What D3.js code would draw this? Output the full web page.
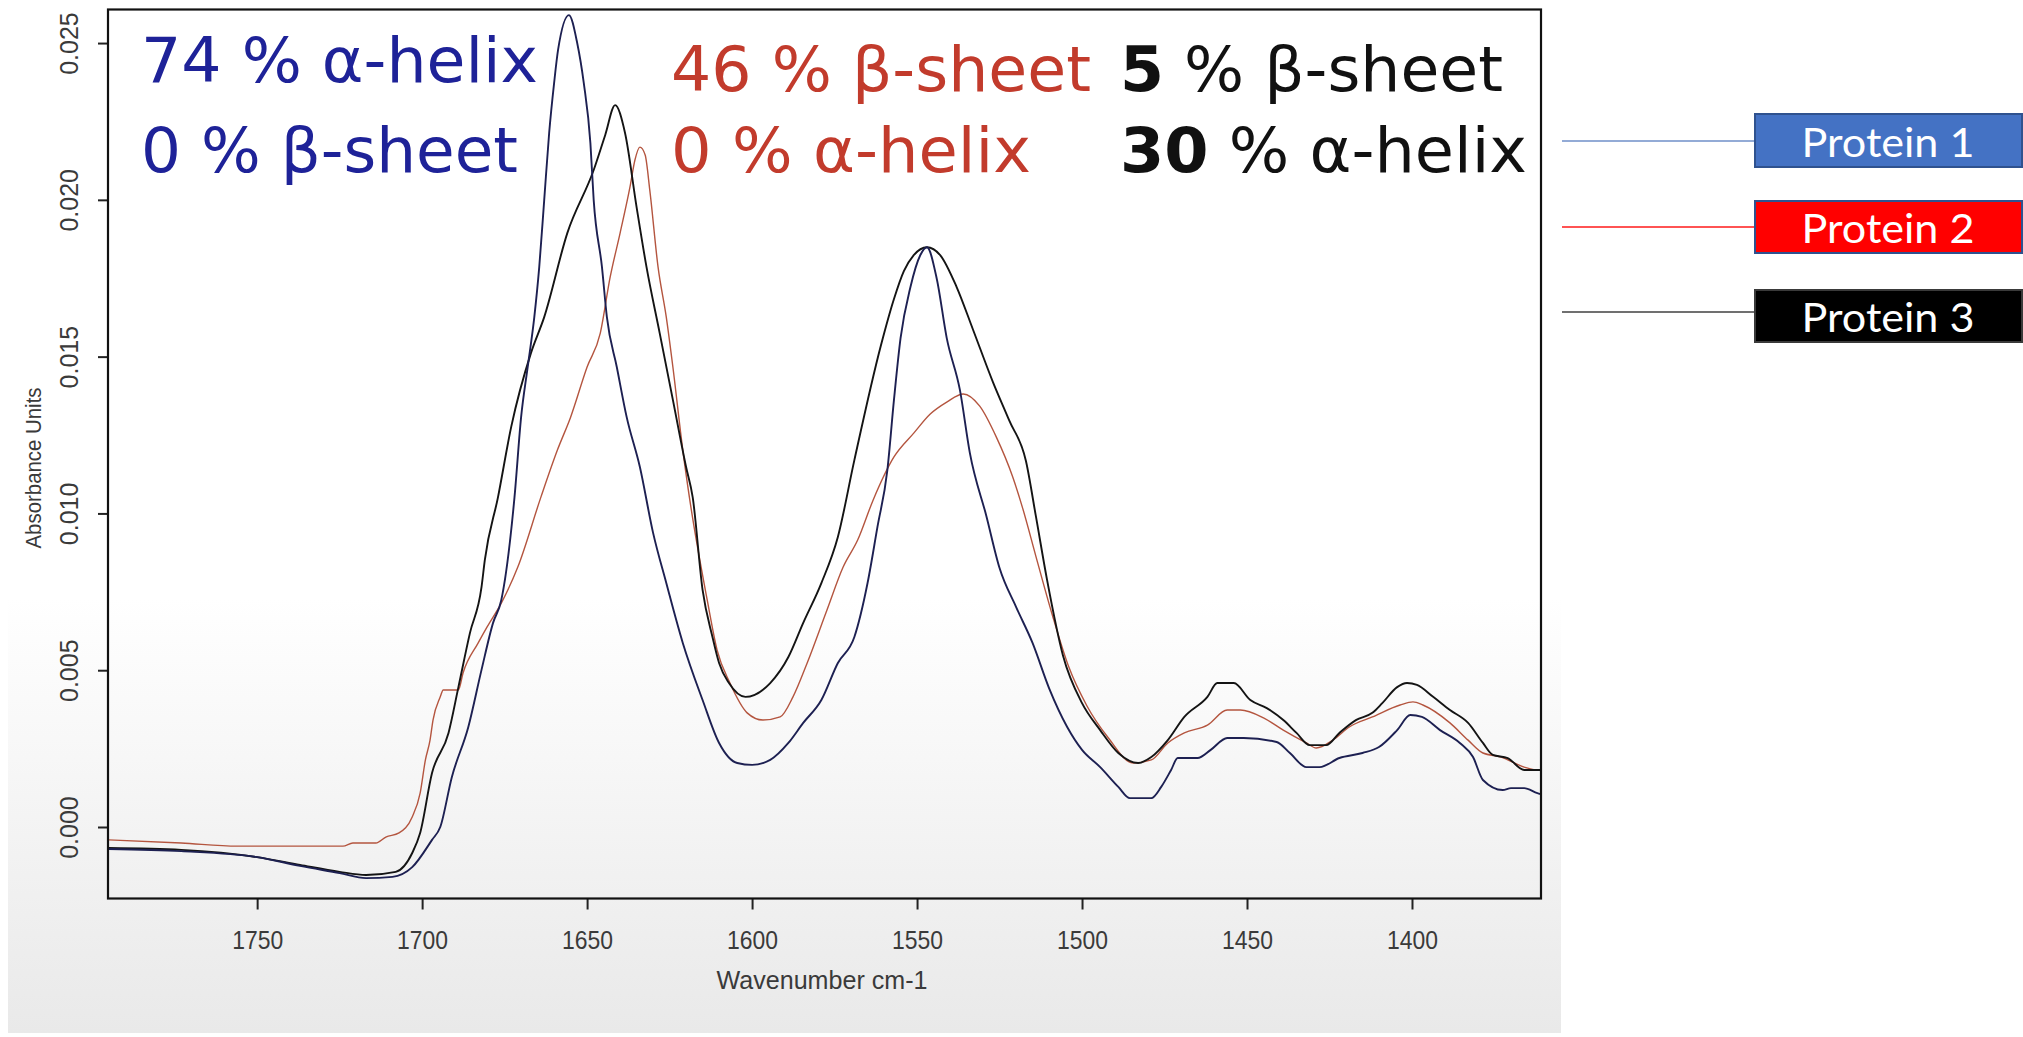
<!DOCTYPE html>
<html>
<head>
<meta charset="utf-8">
<script src="https://cdn.jsdelivr.net/npm/d3@7"></script>
<style>
  body { margin: 0; background: #ffffff; }
  svg { display: block; }
</style>
</head>
<body>
<svg id="chart" width="2023" height="1037"></svg>
<script>
// FTIR absorbance spectra (amide I / amide II region) of three proteins.
// Each series: [wavenumber (cm-1), absorbance units]

const protein1 = [
  [1795,-0.00070],[1773,-0.00077],[1750,-0.00096],[1737,-0.00124],[1725,-0.00147],
  [1717,-0.00163],[1709,-0.00159],[1703,-0.00128],[1697,-0.00041],[1694.5,0.00000],
  [1691,0.00159],[1686,0.00319],[1682,0.00501],[1678.5,0.00651],[1676,0.00724],
  [1672,0.01052],[1670,0.01307],[1668,0.01467],[1666,0.01626],[1664.5,0.01786],
  [1663,0.01999],[1661.5,0.02213],[1660,0.02372],[1658.8,0.02478],[1655.5,0.02589],
  [1653,0.02500],[1651,0.02372],[1649,0.02181],[1648,0.01999],[1645.5,0.01786],
  [1644,0.01626],[1641,0.01467],[1638,0.01307],[1634,0.01148],[1630,0.00938],
  [1626,0.00778],[1621,0.00587],[1615,0.00405],[1610,0.00268],[1604.5,0.00204],
  [1600,0.00198],[1594.5,0.00214],[1589,0.00268],[1584.5,0.00332],[1579,0.00405],
  [1574,0.00523],[1569,0.00606],[1565,0.00778],[1562,0.00957],[1559,0.01138],
  [1557,0.01362],[1555,0.01559],[1552,0.01722],[1549,0.01824],[1547,0.01849],
  [1544,0.01747],[1541,0.01559],[1537,0.01393],[1534,0.01193],[1529,0.00992],
  [1525,0.00826],[1520,0.00702],[1515,0.00587],[1510,0.00443],[1504.5,0.00319],
  [1500,0.00246],[1494.5,0.00191],[1489,0.00128],[1485.5,0.00092],[1479,0.00092],
  [1476,0.00128],[1473,0.00182],[1471,0.00220],[1465,0.00220],[1461,0.00246],
  [1456,0.00284],[1451,0.00284],[1441,0.00271],[1437,0.00236],[1432,0.00191],
  [1428,0.00191],[1422,0.00220],[1415,0.00236],[1410,0.00255],[1404.5,0.00309],
  [1400.5,0.00357],[1397,0.00351],[1391.5,0.00309],[1385.5,0.00268],[1381.5,0.00223],
  [1378.5,0.00150],[1372.5,0.00118],[1370,0.00124],[1366,0.00124],[1362,0.00108],
  [1361,0.00105]
];

const protein2 = [
  [1795,-0.00041],[1773,-0.00051],[1756,-0.00061],[1724,-0.00061],[1721,-0.00051],
  [1714,-0.00051],[1711,-0.00032],[1707,-0.00019],[1703,0.00032],[1700.6,0.00108],
  [1699,0.00214],[1697.6,0.00277],[1696.7,0.00341],[1694.5,0.00415],[1693.6,0.00437],
  [1689,0.00437],[1687.6,0.00491],[1683,0.00587],[1680.3,0.00638],[1676,0.00714],
  [1671,0.00829],[1664,0.01052],[1659,0.01202],[1655,0.01307],[1650,0.01467],
  [1646,0.01575],[1643,0.01754],[1640,0.01894],[1637,0.02041],[1635.5,0.02127],
  [1634,0.02168],[1632.4,0.02143],[1631,0.02031],[1628.5,0.01786],[1626,0.01626],
  [1624,0.01467],[1621,0.01202],[1619,0.01052],[1613.6,0.00724],[1610.6,0.00564],
  [1606.7,0.00459],[1601.5,0.00364],[1596.7,0.00341],[1591.5,0.00351],[1587.6,0.00415],
  [1583.3,0.00523],[1577.3,0.00692],[1572.4,0.00829],[1568,0.00915],[1563.3,0.01043],
  [1557,0.01180],[1551,0.01256],[1546,0.01317],[1541,0.01355],[1536,0.01381],
  [1531,0.01342],[1526,0.01244],[1521,0.01116],[1518,0.01017],[1514,0.00864],
  [1509,0.00676],[1504,0.00510],[1498.5,0.00386],[1492,0.00284],[1484.5,0.00204],
  [1479,0.00214],[1474,0.00268],[1469,0.00300],[1462,0.00325],[1456,0.00373],
  [1452,0.00373],[1445,0.00348],[1439,0.00309],[1432,0.00268],[1429,0.00252],
  [1424,0.00277],[1419,0.00319],[1412,0.00351],[1403.6,0.00389],[1399.7,0.00399],
  [1396.7,0.00389],[1388.5,0.00332],[1383,0.00277],[1378.5,0.00236],[1373,0.00223],
  [1366,0.00191],[1362,0.00182],[1361,0.00182]
];

const protein3 = [
  [1795,-0.00067],[1773,-0.00073],[1750,-0.00096],[1737,-0.00121],[1725,-0.00143],
  [1717,-0.00153],[1708,-0.00143],[1703,-0.00083],[1700.6,-0.00019],[1697,0.00172],
  [1692,0.00300],[1689,0.00446],[1685.5,0.00619],[1682,0.00765],[1681,0.00851],
  [1677,0.01052],[1673,0.01276],[1667,0.01512],[1663,0.01626],[1656,0.01894],
  [1648,0.02095],[1644.5,0.02207],[1641.5,0.02302],[1638.5,0.02213],[1635,0.01977],
  [1632,0.01786],[1628,0.01575],[1624,0.01362],[1620,0.01148],[1618,0.01052],
  [1615,0.00756],[1612,0.00606],[1610,0.00523],[1607,0.00459],[1602,0.00415],
  [1594.5,0.00459],[1589,0.00542],[1584.5,0.00651],[1579,0.00778],[1574,0.00925],
  [1569,0.01170],[1561,0.01534],[1557,0.01684],[1554,0.01773],[1551,0.01824],
  [1547,0.01849],[1543,0.01824],[1538,0.01722],[1533,0.01585],[1527,0.01419],
  [1522,0.01295],[1517,0.01167],[1514,0.00992],[1510.6,0.00788],[1505.8,0.00548],
  [1500,0.00395],[1494.5,0.00309],[1489,0.00236],[1483,0.00204],[1479,0.00223],
  [1474,0.00277],[1469,0.00351],[1462,0.00415],[1459,0.00459],[1454,0.00459],
  [1449,0.00405],[1444,0.00379],[1439,0.00341],[1435,0.00300],[1431,0.00261],
  [1426,0.00261],[1422,0.00300],[1417,0.00341],[1412,0.00364],[1409,0.00395],
  [1404.5,0.00446],[1401.5,0.00459],[1398.5,0.00453],[1393.6,0.00415],[1388.5,0.00373],
  [1383,0.00332],[1378.5,0.00268],[1375.5,0.00230],[1371,0.00220],[1366,0.00182],
  [1362,0.00182],[1361,0.00182]
];

const proteinNames = ["Protein 1", "Protein 2", "Protein 3"];
const xTicks = [1750, 1700, 1650, 1600, 1550, 1500, 1450, 1400];
const yTicks = [0.000, 0.005, 0.010, 0.015, 0.020, 0.025];
const xDomain = [1795.2, 1360.9];
const yDomain = [-0.00228, 0.02607];

// Secondary-structure content printed inside the plot
const structureNotes = [
  { protein: 0, value: "74", label: " % α-helix" },
  { protein: 0, value: "0",  label: " % β-sheet" },
  { protein: 1, value: "46", label: " % β-sheet" },
  { protein: 1, value: "0",  label: " % α-helix" },
  { protein: 2, value: "5",  label: " % β-sheet" },
  { protein: 2, value: "30", label: " % α-helix" }
];

// ---------------------------------------------------------------------------
const svg = d3.select("#chart");
const defs = svg.append("defs");

const shade = defs.append("linearGradient")
  .attr("id", "panelShade").attr("x1", 0).attr("y1", 0).attr("x2", 0).attr("y2", 1);
shade.append("stop").attr("offset", "0%").attr("stop-color", "#ffffff");
shade.append("stop").attr("offset", "58%").attr("stop-color", "#ffffff");
shade.append("stop").attr("offset", "100%").attr("stop-color", "#e9e9e9");

svg.append("rect")
  .attr("x", 8).attr("y", 0).attr("width", 1553).attr("height", 1033)
  .attr("fill", "url(#panelShade)");

const plot = { left: 108, top: 9.5, right: 1541, bottom: 898.5 };

const x = d3.scaleLinear().domain(xDomain).range([plot.left, plot.right]);
const y = d3.scaleLinear().domain(yDomain).range([plot.bottom, plot.top]);

defs.append("clipPath").attr("id", "plotClip")
  .append("rect")
  .attr("x", plot.left).attr("y", plot.top)
  .attr("width", plot.right - plot.left).attr("height", plot.bottom - plot.top);

// Axes
const axisFont = "'Liberation Sans', Arial, sans-serif";

const xAxis = svg.append("g")
  .attr("transform", `translate(0,${plot.bottom})`)
  .call(d3.axisBottom(x).tickValues(xTicks).tickSize(11).tickPadding(22).tickFormat(d3.format("d")));
xAxis.select(".domain").remove();
xAxis.selectAll(".tick line").attr("stroke", "#222").attr("stroke-width", 2);
xAxis.selectAll(".tick text")
  .attr("fill", "#3a3a3a")
  .style("font-family", axisFont)
  .style("font-size", "25px")
  .attr("textLength", 51)
  .attr("lengthAdjust", "spacingAndGlyphs");

const yAxis = svg.append("g")
  .attr("transform", `translate(${plot.left},0)`)
  .call(d3.axisLeft(y).tickValues(yTicks).tickSize(10).tickFormat(d3.format(".3f")));
yAxis.select(".domain").remove();
yAxis.selectAll(".tick line").attr("stroke", "#222").attr("stroke-width", 2);
yAxis.selectAll(".tick text")
  .attr("x", null).attr("dy", null)
  .attr("text-anchor", "middle")
  .attr("transform", "translate(-30,0) rotate(-90)")
  .attr("fill", "#3a3a3a")
  .style("font-family", axisFont)
  .style("font-size", "25px");

svg.append("text")
  .attr("x", 822).attr("y", 989)
  .attr("text-anchor", "middle")
  .attr("fill", "#3a3a3a")
  .style("font-family", axisFont)
  .style("font-size", "26px")
  .attr("textLength", 211).attr("lengthAdjust", "spacingAndGlyphs")
  .text("Wavenumber cm-1");

svg.append("text")
  .attr("transform", "translate(41,468) rotate(-90)")
  .attr("text-anchor", "middle")
  .attr("fill", "#3a3a3a")
  .style("font-family", axisFont)
  .style("font-size", "22px")
  .attr("textLength", 161).attr("lengthAdjust", "spacingAndGlyphs")
  .text("Absorbance Units");

// Spectra
const spectrumLine = d3.line()
  .x(d => x(d[0]))
  .y(d => y(d[1]))
  .curve(d3.curveMonotoneX);

const series = [
  { data: protein2, color: "#b4553f", width: 1.4 },
  { data: protein3, color: "#141414", width: 1.9 },
  { data: protein1, color: "#1d2052", width: 1.9 }
];

svg.append("g").attr("clip-path", "url(#plotClip)")
  .selectAll("path")
  .data(series)
  .join("path")
  .attr("d", d => spectrumLine(d.data))
  .attr("fill", "none")
  .attr("stroke", d => d.color)
  .attr("stroke-width", d => d.width)
  .attr("stroke-linejoin", "round");

// Plot frame
svg.append("rect")
  .attr("x", plot.left).attr("y", plot.top)
  .attr("width", plot.right - plot.left).attr("height", plot.bottom - plot.top)
  .attr("fill", "none").attr("stroke", "#111").attr("stroke-width", 2.2);

// Structure annotations
const noteColors = ["#1e2298", "#c23b2c", "#111111"];
const noteLayout = [
  { x: 141,  y: 82,  w: 397 },
  { x: 141,  y: 172, w: 377 },
  { x: 671,  y: 91,  w: 420 },
  { x: 671,  y: 172, w: 360 },
  { x: 1120, y: 91,  w: 383 },
  { x: 1120, y: 172, w: 407 }
];

structureNotes.forEach((note, i) => {
  const pos = noteLayout[i];
  const t = svg.append("text")
    .attr("x", pos.x).attr("y", pos.y)
    .attr("fill", noteColors[note.protein])
    .style("font-family", "'DejaVu Sans', Verdana, sans-serif")
    .style("font-size", "62px")
    .attr("textLength", pos.w).attr("lengthAdjust", "spacingAndGlyphs");
  t.append("tspan")
    .style("font-weight", note.protein === 2 ? "bold" : "normal")
    .text(note.value);
  t.append("tspan").text(note.label);
});

// Legend
const legendFill = ["#4472C4", "#FF0000", "#000000"];
const legendStroke = ["#2F528F", "#2F528F", "#3a3a3a"];
const legendLine = ["#6f8fc8", "#ff1a1a", "#404040"];
const legendBox = [
  { top: 114, height: 53, lineY: 141, baseline: 157 },
  { top: 201, height: 52, lineY: 227, baseline: 243 },
  { top: 290, height: 52, lineY: 312, baseline: 332 }
];

const legend = svg.append("g").selectAll("g")
  .data(proteinNames)
  .join("g");

legend.append("line")
  .attr("x1", 1562).attr("x2", 1754)
  .attr("y1", (d, i) => legendBox[i].lineY).attr("y2", (d, i) => legendBox[i].lineY)
  .attr("stroke", (d, i) => legendLine[i]).attr("stroke-width", 1.6);

legend.append("rect")
  .attr("x", 1755).attr("y", (d, i) => legendBox[i].top)
  .attr("width", 267).attr("height", (d, i) => legendBox[i].height)
  .attr("fill", (d, i) => legendFill[i])
  .attr("stroke", (d, i) => legendStroke[i]).attr("stroke-width", 2);

legend.append("text")
  .attr("x", 1888).attr("y", (d, i) => legendBox[i].baseline)
  .attr("text-anchor", "middle")
  .attr("fill", "#ffffff")
  .style("font-family", "Lato, 'Open Sans', sans-serif")
  .style("font-size", "41px")
  .attr("textLength", 173).attr("lengthAdjust", "spacingAndGlyphs")
  .text(d => d);
</script>
</body>
</html>
